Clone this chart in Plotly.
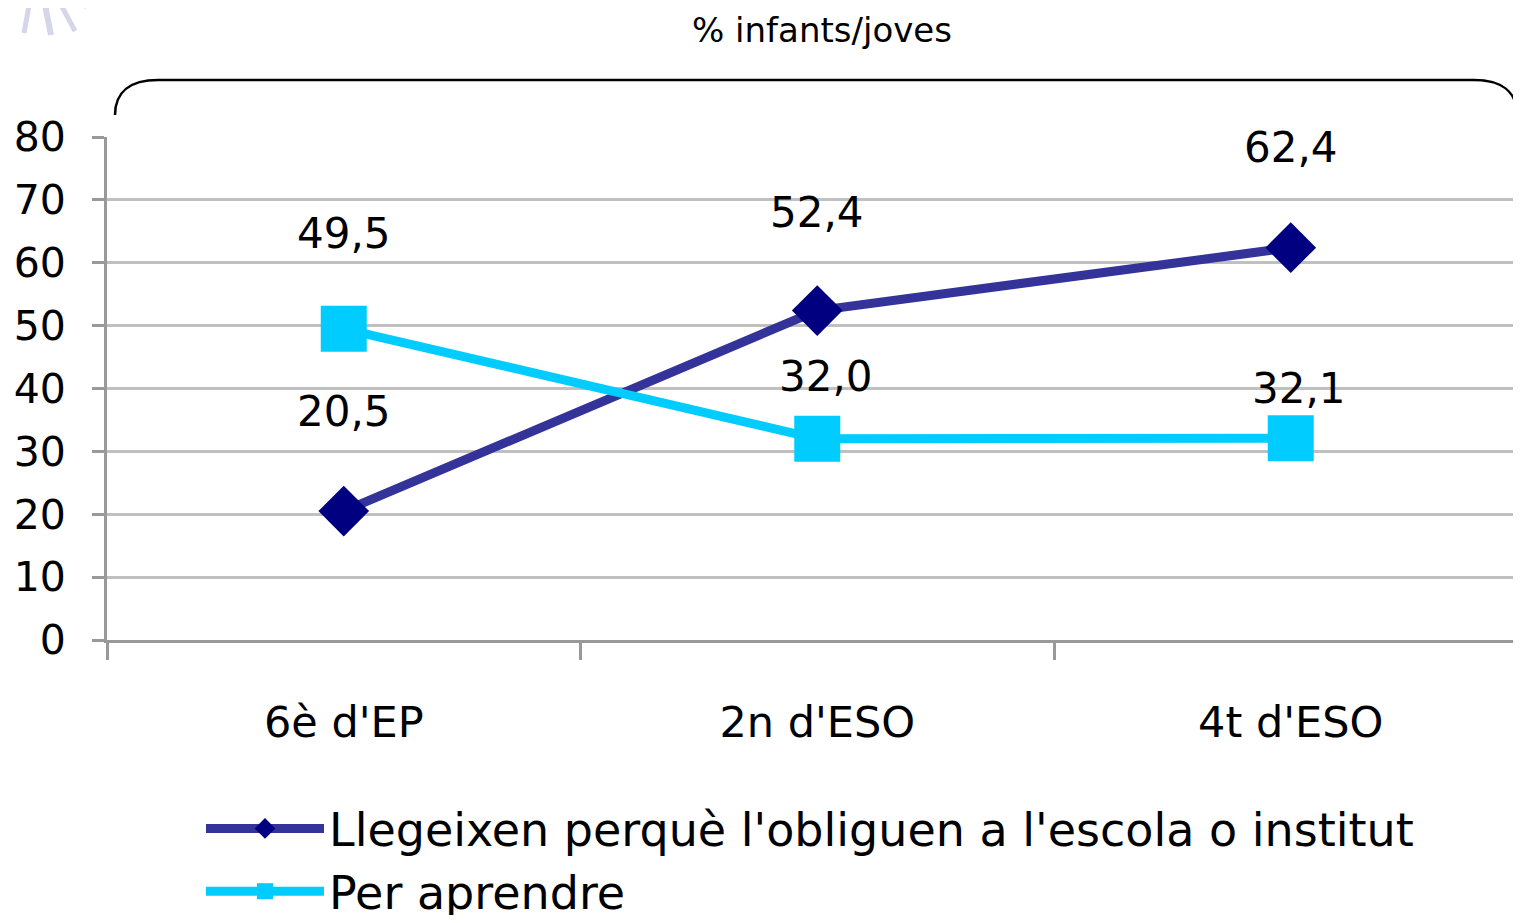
"""Line chart: reasons for reading by school year (% children/youths)."""

import plotly.graph_objects as go

# Chart data
cursos = ["6è d'EP", "2n d'ESO", "4t d'ESO"]
obliguen = [20.5, 52.4, 62.4]
aprendre = [49.5, 32.0, 32.1]
label_obliguen = ["20,5", "52,4", "62,4"]
label_aprendre = ["49,5", "32,0", "32,1"]
serie_noms = ["Llegeixen perquè l'obliguen a l'escola o institut", "Per aprendre"]
titol = "% infants/joves"
y_ticks = [0, 10, 20, 30, 40, 50, 60, 70, 80]

FONT = "DejaVu Sans"
OFF = 8  # page body margin
W, H = 1521 - 2 * OFF, 923 - 2 * OFF
# plot area in screen pixels: left 107, top 137, bottom 640
L, T = 107 - OFF, 137 - OFF
B = H - (640 - OFF)
R = 0
plot_w = W - L - R
plot_h = H - T - B
cat_w = 473.5
x_max = plot_w / cat_w - 0.5


def px_x(px):
    """Screen x pixel -> paper coordinate."""
    return (px - OFF - L) / plot_w


def px_y(py):
    """Screen y pixel -> paper coordinate."""
    return (H - B - (py - OFF)) / plot_h


fig = go.Figure()

fig.add_trace(
    go.Scatter(
        x=cursos,
        y=obliguen,
        name=serie_noms[0],
        mode="lines+markers",
        line=dict(color="#333399", width=9),
        marker=dict(symbol="diamond", size=39, color="#000080"),
    )
)
fig.add_trace(
    go.Scatter(
        x=cursos,
        y=aprendre,
        name=serie_noms[1],
        mode="lines+markers",
        line=dict(color="#00CCFF", width=9),
        marker=dict(symbol="square", size=46, color="#00CCFF"),
    )
)

# Data labels
annotations = []
shifts_obl = [100, 98, 100]
shifts_apr = [95, 62, 50]
xshift_apr = [0, 9, 8]
for i, c in enumerate(cursos):
    annotations.append(
        dict(x=c, y=obliguen[i], text=label_obliguen[i], showarrow=False,
             yshift=shifts_obl[i], font=dict(family=FONT, size=42, color="black"))
    )
    annotations.append(
        dict(x=c, y=aprendre[i], text=label_aprendre[i], showarrow=False,
             yshift=shifts_apr[i], xshift=xshift_apr[i],
             font=dict(family=FONT, size=42, color="black"))
    )

# Title, anchored to the top of the figure so that its box is not clipped
annotations.append(
    dict(xref="paper", yref="paper", x=px_x(822), y=px_y(OFF), text=titol,
         xanchor="center", yanchor="top",
         showarrow=False, font=dict(family=FONT, size=34, color="black"))
)

# Rounded bracket above the plot
x0, x1 = px_x(115), px_x(1517)
xa, xb = px_x(158), px_x(1474)
yt, yb = px_y(80), px_y(115)
bracket = (
    f"M {x0},{yb} C {x0},{px_y(92)} {px_x(130)},{yt} {xa},{yt} "
    f"L {xb},{yt} C {px_x(1502)},{yt} {x1},{px_y(92)} {x1},{yb}"
)

shapes = [
    dict(type="path", xref="paper", yref="paper", path=bracket,
         line=dict(color="black", width=2.5))
]

# faint logo fragment in the top-left corner
logo_strokes = [((30, 0), (24, 33), 5), ((44, 0), (51, 35), 6),
                ((60, 3), (75, 31), 5), ((78, 0), (86, 8), 3)]
for (sx, sy), (ex, ey), w in logo_strokes:
    shapes.append(
        dict(type="line", xref="paper", yref="paper",
             x0=px_x(sx), y0=px_y(sy), x1=px_x(ex), y1=px_y(ey),
             line=dict(color="#d6d6ea", width=w))
    )

fig.update_layout(
    width=W,
    height=H,
    margin=dict(l=L, r=R, t=T, b=B, autoexpand=False),
    plot_bgcolor="white",
    paper_bgcolor="white",
    font=dict(family=FONT, color="black"),
    annotations=annotations,
    shapes=shapes,
    showlegend=True,
    legend=dict(
        orientation="v",
        x=px_x(201),
        y=px_y(792),
        xanchor="left",
        yanchor="top",
        font=dict(family=FONT, size=46, color="black"),
        itemwidth=118,
        tracegroupgap=0,
        bgcolor="rgba(0,0,0,0)",
    ),
    xaxis=dict(
        range=[-0.5, x_max],
        showgrid=False,
        showline=True,
        linecolor="#999999",
        linewidth=3,
        ticks="outside",
        tickson="boundaries",
        ticklen=17,
        tickwidth=3,
        tickcolor="#999999",
        tickfont=dict(family=FONT, size=43, color="black"),
        ticklabelstandoff=42,
        automargin=False,
        fixedrange=True,
    ),
    yaxis=dict(
        range=[0, 80],
        tickvals=y_ticks,
        showgrid=True,
        gridcolor="#c0c0c0",
        gridwidth=3,
        showline=True,
        linecolor="#999999",
        linewidth=3,
        ticks="outside",
        ticklen=12,
        tickwidth=3,
        tickcolor="#999999",
        tickfont=dict(family=FONT, size=41, color="black"),
        ticklabelstandoff=18,
        zeroline=False,
        automargin=False,
        fixedrange=True,
    ),
)

fig.write_html("out.html")
